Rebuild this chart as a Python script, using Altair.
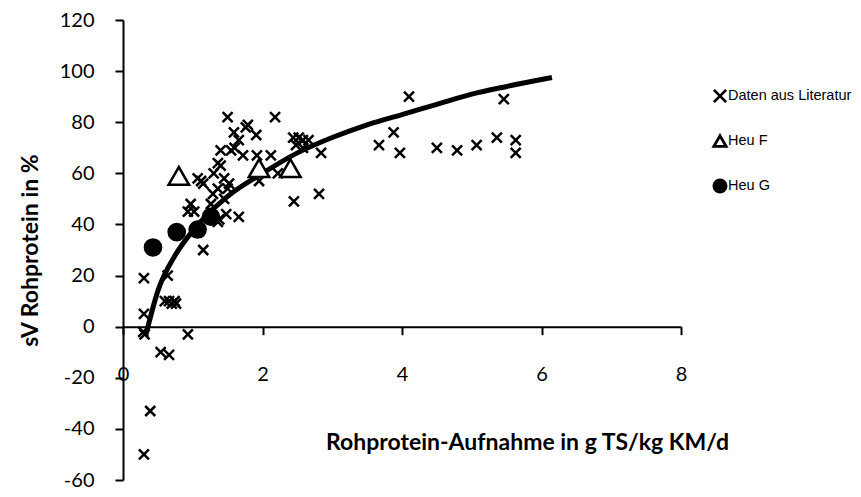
import altair as alt
import pandas as pd

# Daten aus Literatur (x = Rohprotein-Aufnahme, y = sV Rohprotein)
lit_x = [0.30, 0.64, 0.30, 0.29, 0.31, 0.93, 0.54, 0.66, 0.39, 0.30,
         0.60, 0.66, 0.70, 0.74, 0.76, 1.15, 0.93, 0.97, 1.02, 1.38,
         1.36, 1.48, 1.66, 1.26, 1.45, 1.29, 1.36, 1.50, 1.45, 1.40,
         1.30, 1.07, 1.15, 1.12, 1.40, 1.50, 1.59, 1.66, 1.76, 1.91,
         1.60, 1.72, 1.92, 2.12, 1.95, 2.22, 2.18, 2.44, 2.52, 2.58,
         2.66, 2.48, 2.58, 2.84, 2.45, 2.81, 3.67, 3.88, 3.97, 4.10,
         4.50, 4.79, 5.07, 5.36, 5.46, 5.63, 5.63, 1.55, 1.36, 1.52, 1.79]
lit_y = [19, 20, 5, -2, -3, -3, -10, -11, -33, -50,
         10, 10, 9, 10, 9, 30, 45, 48, 45, 42,
         41, 44, 43, 48, 50, 52, 54, 54, 58, 63,
         60, 58, 56, 57, 69, 82, 76, 73, 78, 75,
         70, 67, 67, 67, 57, 60, 82, 74, 74, 73,
         73, 71, 70, 68, 49, 52, 71, 76, 68, 90,
         70, 69, 71, 74, 89, 73, 68, 69, 64, 56, 79]

heuF_x = [0.80, 1.95, 2.40]
heuF_y = [59, 62, 62]

heuG_x = [0.43, 0.77, 1.07, 1.26]
heuG_y = [31, 37, 38, 43]

# Trendkurve
fit_x = [0.33, 0.5, 0.75, 1.0, 1.5, 2.0, 2.5, 3.0, 3.5, 4.0, 4.5, 5.0, 5.5, 6.15]
fit_y = [-3, 14, 28, 37.5, 51, 60, 68, 74, 79, 83, 87, 91, 94, 97.5]

series = ["Daten aus Literatur", "Heu F", "Heu G"]

lit = pd.DataFrame({"x": lit_x, "y": lit_y, "Serie": series[0]})
heuF = pd.DataFrame({"x": heuF_x, "y": heuF_y, "Serie": series[1]})
heuG = pd.DataFrame({"x": heuG_x, "y": heuG_y, "Serie": series[2]})
fit = pd.DataFrame({"x": fit_x, "y": fit_y})

X_PATH = "M-1,-1L1,1M-1,1L1,-1"

PLOT_W = 558
PLOT_H = 460

xs = alt.Scale(domain=[0, 8], nice=False, zero=False)
ys = alt.Scale(domain=[-60, 120], nice=False, zero=False)

x_axis = alt.Axis(
    values=[0, 2, 4, 6, 8], title="Rohprotein-Aufnahme in g TS/kg KM/d",
    labelExpr="'' + datum.value", labelFlush=False,
    offset=-(PLOT_H * 60 / 180), grid=False, domainColor="black", domainWidth=2,
    tickColor="black", tickWidth=2, tickSize=8, labelPadding=30,
    labelFont="Lato", labelFontSize=20, labelColor="black",
    titleFont="Lato", titleFontSize=23, titleFontWeight="bold", titleColor="black",
    titleX=404, titleY=116, titleAlign="center", titleBaseline="middle",
)
y_axis = alt.Axis(
    values=list(range(-60, 121, 20)), title="sV Rohprotein in %",
    labelExpr="'' + datum.value", labelFlush=False,
    grid=False, domainColor="black", domainWidth=2,
    tickColor="black", tickWidth=2, tickSize=8, labelPadding=21,
    labelFont="Lato", labelFontSize=20, labelColor="black",
    titleFont="Lato", titleFontSize=23, titleFontWeight="bold", titleColor="black",
    titleX=-93, titleY=230, titleAngle=270, titleAlign="center", titleBaseline="middle",
)

leg = alt.Legend(title=None, orient="none", legendX=589, legendY=68)
shape_enc = alt.Shape("Serie:N", scale=alt.Scale(domain=series, range=[X_PATH, "triangle-up", "circle"]),
                      legend=leg)
fill_enc = alt.Fill("Serie:N", scale=alt.Scale(domain=series, range=["transparent", "white", "black"]),
                    legend=leg)
stroke_enc = alt.Stroke("Serie:N", scale=alt.Scale(domain=series, range=["black", "black", "black"]),
                        legend=leg)


def layer_points(df, size):
    return alt.Chart(df).mark_point(opacity=1, strokeWidth=2.5, size=size).encode(
        x=alt.X("x:Q", scale=xs, axis=x_axis),
        y=alt.Y("y:Q", scale=ys, axis=y_axis),
        shape=shape_enc,
        fill=fill_enc,
        stroke=stroke_enc,
    )


line = alt.Chart(fit).mark_line(color="black", strokeWidth=5, interpolate="monotone").encode(
    x=alt.X("x:Q", scale=xs, axis=x_axis),
    y=alt.Y("y:Q", scale=ys, axis=y_axis),
)

chart = alt.layer(
    line,
    layer_points(lit, 100),
    layer_points(heuF, 420),
    layer_points(heuG, 260),
).properties(
    width=PLOT_W, height=PLOT_H,
    padding={"left": 115, "top": 12, "right": 172, "bottom": 9},
    autosize=alt.AutoSizeParams(type="none"),
).configure_view(stroke=None).configure_legend(
    labelFont="Liberation Sans", labelFontSize=14.5, labelColor="black",
    symbolSize=150, symbolStrokeWidth=2.8, symbolStrokeColor="black",
    rowPadding=22, labelOffset=0,
)

chart.save("out.html", embed_options={"renderer": "svg", "actions": False})
